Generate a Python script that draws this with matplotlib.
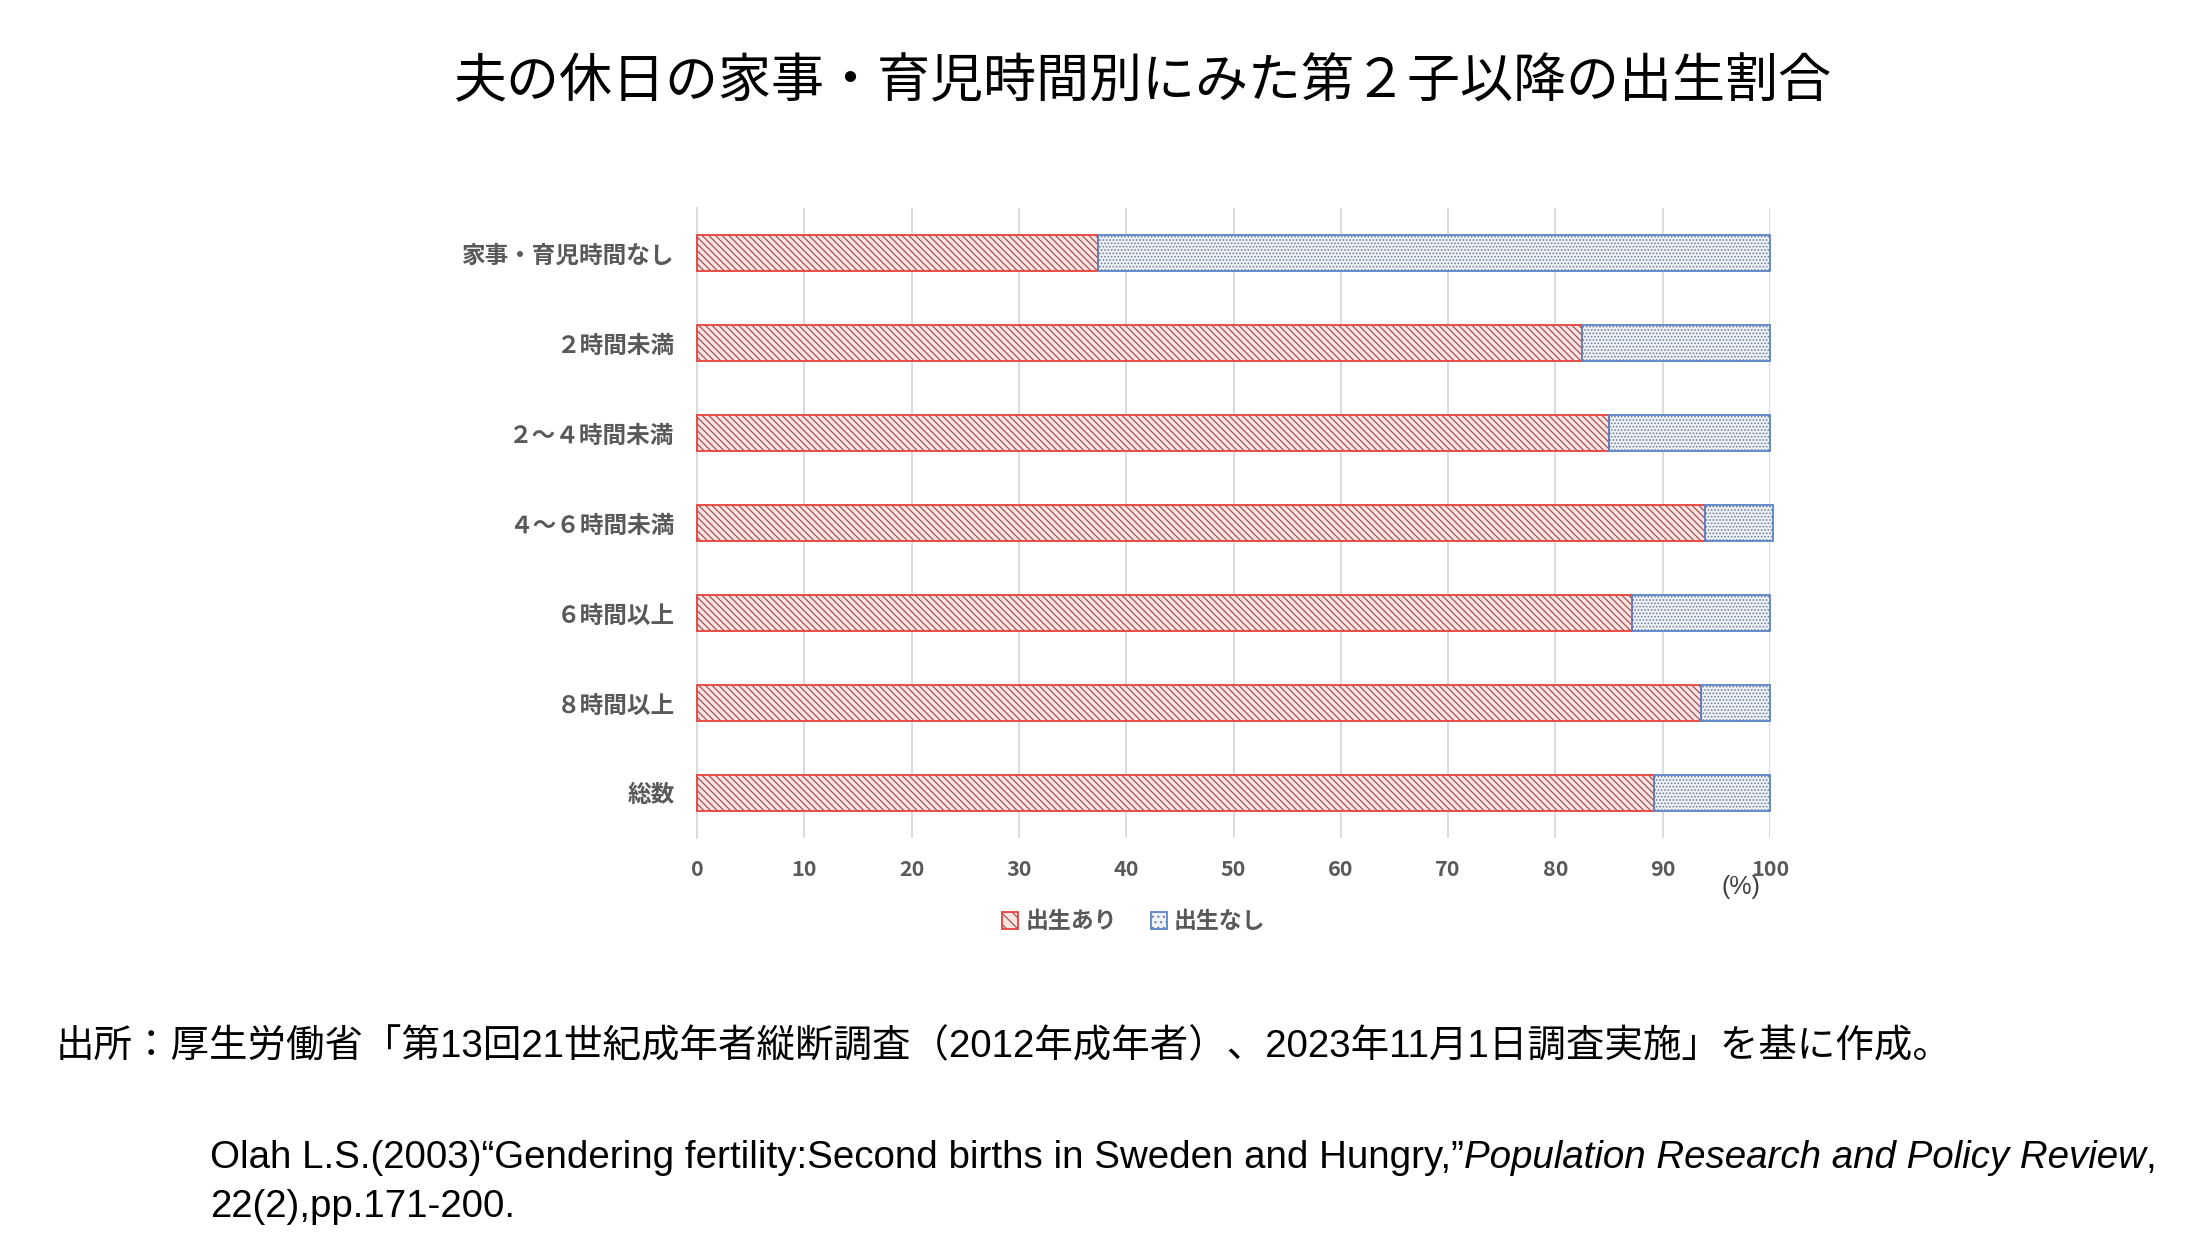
"""
Stacked horizontal bar: second-birth ratio by husband's weekend housework/childcare time.
"""

import matplotlib
matplotlib.use('Agg')
import matplotlib.pyplot as plt
import matplotlib.patches as mpatches
from matplotlib.legend_handler import HandlerTuple

JP = ['Noto Sans CJK JP', 'DejaVu Sans']
EN = ['Liberation Sans', 'Noto Sans CJK JP', 'DejaVu Sans']
plt.rcParams['font.family'] = JP
plt.rcParams['hatch.linewidth'] = 0.8

# ── data ────────────────────────────────────────────────────────────────────
categories = ['家事・育児時間なし', '２時間未満', '２～４時間未満', '４～６時間未満',
              '６時間以上', '８時間以上', '総数']
born = [37.4, 82.5, 85.0, 93.9, 87.1, 93.6, 89.2]
not_born = [62.6, 17.5, 15.0, 6.4, 12.9, 6.4, 10.8]
xticks = [0, 10, 20, 30, 40, 50, 60, 70, 80, 90, 100]
series_names = ['出生あり', '出生なし']

C_GRAY_TXT = '#595959'
C_GRID = '#D9D9D9'
C_RED = '#E8413C'
C_RED_FACE = '#FBE3E2'
C_RED_HATCH = '#9C4646'
C_BLUE = '#5B84C8'
C_BLUE_FACE = '#EEF2F8'
C_BLUE_HATCH = '#6F7F95'

RED_HATCH = '\\\\\\\\\\'
BLUE_HATCH = '.....'
FS_REF = 27.7


def main():
    fig = plt.figure(figsize=(22, 12.5), dpi=100)
    fig.patch.set_facecolor('white')
    ax = fig.add_axes([697 / 2200, 1 - 838 / 1250, 1073 / 2200, 630 / 1250])

    y = list(range(len(categories)))
    bh = 0.39

    # red (hatched) segment: hatch layer then outline layer
    ax.barh(y, born, height=bh, color=C_RED_FACE, edgecolor=C_RED_HATCH,
            hatch=RED_HATCH, linewidth=0, zorder=3, clip_on=False)
    ax.barh(y, born, height=bh, fill=False, edgecolor=C_RED, linewidth=1.3, zorder=4,
            clip_on=False)

    # blue (dotted) segment
    ax.barh(y, not_born, left=born, height=bh, color=C_BLUE_FACE,
            edgecolor=C_BLUE_HATCH, hatch=BLUE_HATCH, linewidth=0, zorder=3, clip_on=False)
    ax.barh(y, not_born, left=born, height=bh, fill=False, edgecolor=C_BLUE,
            linewidth=1.3, zorder=4, clip_on=False)

    ax.set_ylim(len(categories) - 0.5, -0.5)
    ax.set_xlim(0, 100)
    ax.set_yticks(y)
    ax.set_yticklabels(categories, fontsize=17, fontweight='bold', color=C_GRAY_TXT)
    ax.set_xticks(xticks)
    ax.set_xticklabels([str(v) for v in xticks], fontsize=15.5, fontweight='bold',
                       color=C_GRAY_TXT)
    ax.tick_params(axis='both', length=0)
    ax.tick_params(axis='x', pad=15)
    ax.tick_params(axis='y', pad=16)
    ax.xaxis.grid(True, color=C_GRID, linewidth=1.3, zorder=0)
    ax.set_axisbelow(True)
    for s in ['top', 'right', 'bottom']:
        ax.spines[s].set_visible(False)
    ax.spines['left'].set_color(C_GRID)
    ax.spines['left'].set_linewidth(1.3)

    fig.text(1741 / 2200, 1 - 887 / 1250, '(%)', ha='center', va='center',
             fontsize=18, color='#404040', family=EN)

    # legend
    h1 = (mpatches.Patch(facecolor=C_RED_FACE, edgecolor=C_RED_HATCH, hatch='\\\\\\', lw=0),
          mpatches.Patch(fill=False, edgecolor=C_RED, lw=1.3))
    h2 = (mpatches.Patch(facecolor=C_BLUE_FACE, edgecolor=C_BLUE_HATCH, hatch='...', lw=0),
          mpatches.Patch(fill=False, edgecolor=C_BLUE, lw=1.3))
    leg = fig.legend([h1, h2], series_names, loc='center',
                     bbox_to_anchor=(1134 / 2200, 1 - 922 / 1250), ncol=2,
                     frameon=False, handler_map={tuple: HandlerTuple(ndivide=1, pad=0)},
                     handlelength=0.7, handleheight=0.7, handletextpad=0.3,
                     columnspacing=1.5, prop={'size': 16.5, 'weight': 'bold'})
    for t in leg.get_texts():
        t.set_color(C_GRAY_TXT)

    # title
    fig.text(1143 / 2200, 1 - 82 / 1250, '夫の休日の家事・育児時間別にみた第２子以降の出生割合',
             ha='center', va='center', fontsize=38.2, color='black')

    # source
    fig.text(56 / 2200, 1 - 1047 / 1250,
             '出所：厚生労働省「第13回21世紀成年者縦断調査（2012年成年者）、2023年11月1日調査実施」を基に作成。',
             ha='left', va='center', fontsize=27.7, color='black', family=EN)

    # reference (normal + italic journal name)
    x0 = 210 / 2200
    base_y = 1 - 1168 / 1250
    t1 = fig.text(x0, base_y,
                  'Olah L.S.(2003)\u201cGendering fertility:Second births in Sweden and Hungry,\u201d',
                  ha='left', va='baseline', fontsize=FS_REF, color='black', family=EN)
    t2 = fig.text(0, base_y, 'Population Research and Policy Review', fontsize=FS_REF,
                  style='italic', color='black', family=EN, ha='left', va='baseline')
    t3 = fig.text(0, base_y, ',', fontsize=FS_REF, color='black', family=EN,
                  ha='left', va='baseline')
    fig.text(x0, 1 - 1217 / 1250, '22(2),pp.171-200.',
             ha='left', va='baseline', fontsize=FS_REF, color='black', family=EN)

    # chain the pieces of the reference line
    fig.canvas.draw()
    r = fig.canvas.get_renderer()
    bb1 = t1.get_window_extent(r)
    t2.set_x(bb1.x1 / fig.bbox.width)
    fig.canvas.draw()
    bb2 = t2.get_window_extent(r)
    t3.set_x(bb2.x1 / fig.bbox.width)

    fig.savefig('out.png', dpi=100, facecolor='white')
    plt.close(fig)


if __name__ == '__main__':
    main()
